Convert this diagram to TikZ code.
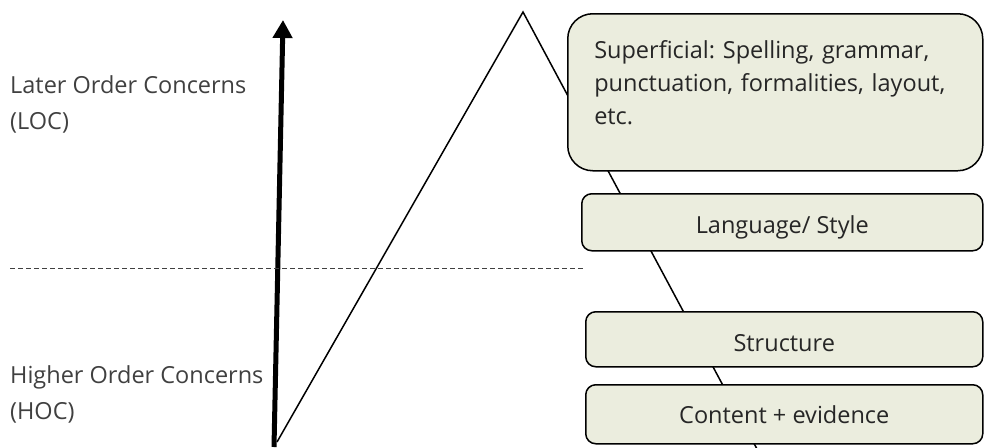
\documentclass[tikz,border=0pt]{standalone}
\usepackage{fontspec}
\setmainfont{Open Sans}
\usepackage{xcolor}
\usetikzlibrary{arrows.meta}
\definecolor{boxfill}{HTML}{EBEDDE}
\definecolor{labelgray}{HTML}{404040}
\frenchspacing
\tikzset{
  Concern/.style={
    rectangle, draw, line width=1.5pt, fill=boxfill, text=black!85,
    anchor=north west, inner sep=0pt,
    font=\fontsize{23.5}{33}\selectfont
  },
  Level/.style={
    anchor=west, inner sep=0pt, align=left, text=labelgray,
    font=\fontsize{23.5}{36}\selectfont
  }
}

\begin{document}
\begin{tikzpicture}[x=1pt,y=-1pt]
    \useasboundingbox (0,0) rectangle (984,447);
    \coordinate (base) at (277,442);
    \coordinate (apex) at (523,12);
    \coordinate (foot) at (757,449);
    \coordinate (tail) at (274,447);
    \coordinate (tip) at (283,20);
    \coordinate (dl) at (10,268);
    \coordinate (dr) at (585,268);

    \node[Level] (loc) at (10,104) {Later Order Concerns\\(LOC)};
    \node[Level] (hoc) at (10,394) {Higher Order Concerns\\(HOC)};

    \draw[line width=5pt,-{Triangle[width=19pt,length=18pt]}] (tail) -- (tip);
    \draw[line width=1.5pt,line join=miter] (base) -- (apex) -- (foot);
    \draw[labelgray,line width=1pt,dash pattern=on 5pt off 3pt] (dl) -- (dr);

    \node[Concern,rounded corners=25pt,minimum width=415pt,minimum height=157pt,
      text width=362pt,align=left,text depth=85pt] (sup) at (567,13)
      {Superficial: Spelling, grammar,\\punctuation, formalities, layout,\\etc.};
    \node[Concern,rounded corners=10pt,minimum width=401pt,minimum height=57pt,
      text height=29pt] (lang) at (581,193) {Language/ Style};
    \node[Concern,rounded corners=10pt,minimum width=397pt,minimum height=55pt,
      text height=25pt] (struct) at (585,311) {Structure};
    \node[Concern,rounded corners=10pt,minimum width=397pt,minimum height=59pt] (cont) at (585,384) {Content + evidence};
  \end{tikzpicture}
\end{document}
